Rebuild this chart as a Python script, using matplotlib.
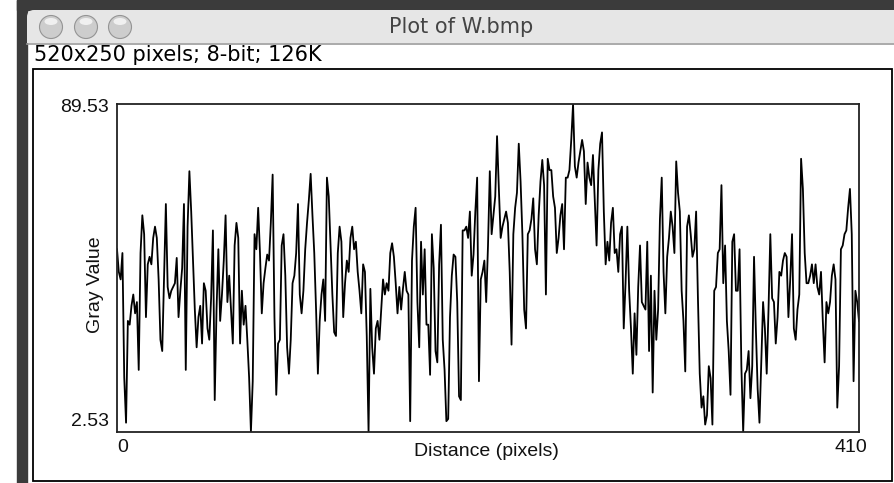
import matplotlib
matplotlib.use("Agg")
import matplotlib.pyplot as plt
import matplotlib.patches as patches
import numpy as np

# gray values along the line profile (411 samples)
gray_value = [
    51, 45, 43, 50, 17, 5, 32, 31, 36, 39,
    34, 37, 19, 50, 60, 55, 33, 47, 49, 47,
    54, 57, 54, 43, 27, 24, 44, 63, 41, 38,
    40, 41, 42, 48.7, 33, 40, 46, 63, 19, 57,
    71.7, 61, 48, 35, 25, 33, 36, 26, 42, 40,
    30, 27, 38, 56, 11, 35, 51, 32, 39, 48,
    60, 37, 44, 35, 26, 52,
    58, 54, 26, 40, 31, 36, 27, 17, 2.6, 16,
    55, 51, 62, 50, 34, 42, 46, 49.6, 48, 58,
    70.8, 33, 12.4, 26, 27, 52, 55, 44, 25, 18,
    27, 42, 44, 50, 63, 39, 34, 40, 51, 58,
    64, 71, 60, 50, 35, 18, 32, 39, 43, 32,
    70, 65, 52, 39, 29, 28, 50, 57, 53, 33,
    42, 48, 45, 54, 57, 51, 53, 45, 40, 34,
    47, 45, 28, 2.53, 40.5, 25, 18, 30, 32, 27,
    35, 43, 39, 42, 40, 50, 52.6, 49, 42, 34,
    41, 35, 40.5, 45, 40, 39, 5.4, 48, 57, 62,
    37, 25, 53, 39, 51, 31, 31, 17.7, 55, 46,
    24, 21, 47, 57.5, 27, 19, 5.4, 6, 33, 44,
    49.6, 49, 37, 12, 11, 56, 56, 57, 54, 61,
    44, 49.6, 61, 70, 16, 43, 45, 48, 37,
    52, 71.7, 55, 60, 65, 81, 67, 54, 57, 59,
    61, 58, 45, 25.7, 55, 62, 66, 79, 69, 55,
    35, 30, 55, 56, 59, 64.5, 51, 47, 60, 69,
    74.7, 68, 39, 75, 72, 72, 65, 62, 50, 54,
    60, 63, 51, 70, 70, 72, 80, 89.53, 73, 70,
    74, 77, 80, 77, 63, 74, 70, 68, 76, 64,
    52, 72, 79, 82, 61, 47, 53, 48, 58,
    62, 50, 51, 45, 55, 57, 30, 42, 57, 40,
    30, 18, 34, 23, 41, 52, 37, 36, 35, 53,
    24, 44, 13, 40, 27, 35, 59, 70, 45, 34,
    49, 54, 61, 57, 50, 74.3, 66, 61, 40, 32,
    18.6, 57, 60, 55, 49, 51, 61, 38, 18, 9,
    12, 4.5, 7, 20, 16.8, 4.5, 40, 41, 50, 51,
    68, 42, 52, 32, 24, 12.4, 53, 55, 40,
    40, 51, 20, 2.6, 18, 19, 24, 11.5, 20, 49,
    30, 14, 5, 21, 37, 30, 18, 35, 55, 38,
    37, 26, 33, 45, 44, 48, 50, 49, 33, 43,
    55, 30, 27, 35, 39, 75, 67, 50, 42, 42,
    44, 47, 42, 47, 41, 39, 45, 32, 21, 37,
    34, 37, 44, 47, 43, 9, 20, 51, 52, 55,
    56, 62, 67, 55, 16, 40, 37, 32,
]
distance = np.arange(len(gray_value))

y_min, y_max = 2.53, 89.53
x_min, x_max = 0, 410

window_title = "Plot of W.bmp"
image_info = "520x250 pixels; 8-bit; 126K"
x_label = "Distance (pixels)"
y_label = "Gray Value"

W, H = 894, 483
fig = plt.figure(figsize=(W / 100, H / 100), dpi=100)
fig.patch.set_facecolor('white')

# background layer in pixel coordinates (window chrome)
bg = fig.add_axes([0, 0, 1, 1])
bg.set_xlim(0, W)
bg.set_ylim(H, 0)
bg.axis('off')

desk = '#3b3b3b'
bg.add_patch(patches.Rectangle((17, 0), W - 17, 10, color=desk))
bg.add_patch(patches.Rectangle((17, 0), 10, H, color=desk))

# title bar
bg.add_patch(patches.FancyBboxPatch((27, 10), W, 33,
                                    boxstyle='round,pad=0,rounding_size=7',
                                    fc='#e6e6e6', ec='none'))
bg.add_patch(patches.Rectangle((27, 26), W, 17, fc='#e6e6e6', ec='none'))
bg.plot([27, W], [43.5, 43.5], color='#9c9c9c', lw=1.2)

for cx in (51, 86, 120):
    bg.add_patch(patches.Circle((cx, 27), 11.5, fc='#cdcdcd', ec='#949494', lw=0.8))
    bg.add_patch(patches.Ellipse((cx, 21.5), 13, 7, fc='white', ec='none', alpha=0.7))

bg.text(461, 27, window_title, ha='center', va='center', fontsize=15,
        color='#444444', family='DejaVu Sans')
bg.text(34, 55, image_info, ha='left', va='center', fontsize=15,
        color='black', family='DejaVu Sans')

# frame around the plot
bg.add_patch(patches.Rectangle((33, 69), 859, 412, fill=False, ec='black', lw=1.3))

# the plot itself
left, right, top, bottom = 117, 859, 104, 432
ax = fig.add_axes([left / W, (H - bottom) / H, (right - left) / W, (bottom - top) / H])
ax.plot(distance, gray_value, color='black', lw=1.3)
ax.set_xlim(x_min, x_max)
ax.set_ylim(y_min, y_max)
ax.set_xticks([])
ax.set_yticks([])
for s in ax.spines.values():
    s.set_linewidth(1.3)
    s.set_color('#222222')

lab = dict(family='Liberation Sans', fontsize=14, color='#111111')
ax.annotate(f"{y_max:.2f}", xy=(0, y_max), xycoords=('axes fraction', 'data'),
            xytext=(-8, -3), textcoords='offset pixels', ha='right', va='center', **lab)
ax.annotate(f"{y_min:.2f}", xy=(0, y_min), xycoords=('axes fraction', 'data'),
            xytext=(-8, 11), textcoords='offset pixels', ha='right', va='center', **lab)
ax.annotate(str(x_min), xy=(x_min, 0), xycoords=('data', 'axes fraction'),
            xytext=(0, -15), textcoords='offset pixels', ha='left', va='center', **lab)
ax.annotate(str(x_max), xy=(x_max, 0), xycoords=('data', 'axes fraction'),
            xytext=(8, -15), textcoords='offset pixels', ha='right', va='center', **lab)
ax.annotate(x_label, xy=(0.5, 0), xycoords='axes fraction',
            xytext=(-2, -19), textcoords='offset pixels', ha='center', va='center', **lab)
bg.text(96, 285, y_label, rotation=90, ha='center', va='center', **lab)

fig.savefig('out.png', dpi=100)
